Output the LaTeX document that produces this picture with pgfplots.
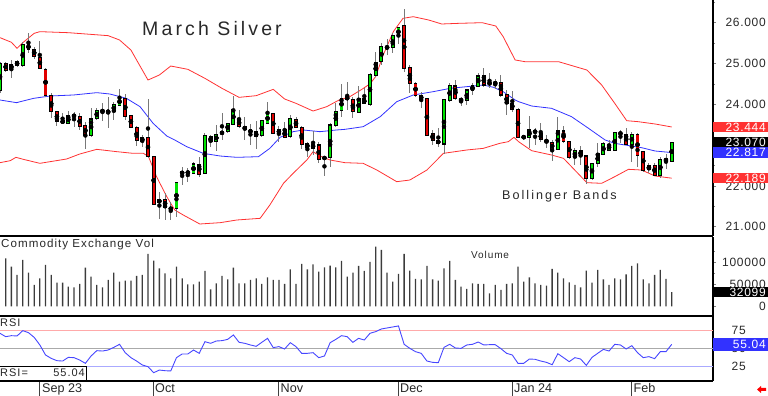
\documentclass[border=0pt]{standalone}
\usepackage{fontspec}
\setmainfont{Liberation Sans}
\newfontfamily\fA[LetterSpace=16]{Liberation Sans}
\newfontfamily\fB[LetterSpace=9]{Liberation Sans}
\newfontfamily\fC[LetterSpace=6]{Liberation Sans}
\usepackage{pgfplots}
\pgfplotsset{compat=1.18}
\usepackage{pgfplotstable}

\definecolor{cgreen}{RGB}{0,225,0}
\definecolor{cred}{RGB}{225,0,0}
\definecolor{bred}{RGB}{255,50,50}
\definecolor{bblue}{RGB}{50,50,255}
\definecolor{wick}{RGB}{120,120,120}
\definecolor{volc}{RGB}{60,60,60}
\definecolor{rline}{RGB}{70,70,255}
\definecolor{rsfff}{RGB}{255,170,170}
\definecolor{rgr}{RGB}{170,170,170}
\definecolor{rbl}{RGB}{170,170,255}
\definecolor{tc}{RGB}{40,40,40}

\newcommand\rfont{\fC\fontsize{12bp}{12bp}\selectfont}
\newcommand\rlab[2]{\node[anchor=east, inner sep=0pt, font=\rfont, text=tc] at (axis cs:125.26,#1) [xshift=53bp] {#2};}
\newcommand\llab[2]{\node[anchor=west, inner sep=0pt, font=\rfont, text=tc] at (axis cs:125.26,#1) [xshift=18.5bp] {#2};}
\newcommand\tagbox[4]{%
  \node[anchor=west, fill=#3, minimum width=55bp, minimum height=#4, inner sep=0pt] at (axis cs:125.26,#1) {};
  \node[anchor=east, inner sep=0pt, font=\rfont, text=white] at (axis cs:125.26,#1) [xshift=53bp] {#2};}

\pgfplotstableread{
i o h l c
0 24.350 25.045 24.268 25.004
1 25.004 25.045 24.799 24.824
2 24.857 25.086 24.636 24.979
3 25.036 25.086 24.922 24.955
4 24.947 25.535 24.922 25.453
5 25.469 25.755 25.265 25.347
6 25.347 25.412 25.102 25.183
7 25.151 25.559 24.857 24.881
8 24.857 24.881 24.187 24.228
9 24.211 24.285 23.656 23.819
10 23.819 23.819 23.468 23.574
11 23.598 23.778 23.517 23.549
12 23.533 23.843 23.517 23.721
13 23.737 23.819 23.451 23.697
14 23.697 23.795 23.370 23.468
15 23.468 23.574 22.896 23.247
16 23.247 23.901 23.206 23.639
17 23.656 23.901 23.615 23.843
18 23.860 24.023 23.598 23.811
19 23.795 24.187 23.410 23.843
20 23.819 24.064 23.615 23.999
21 23.982 24.366 23.958 24.146
22 24.130 24.252 23.615 23.713
23 23.713 23.737 23.410 23.435
24 23.435 23.468 22.978 23.108
25 23.092 23.247 22.961 23.182
26 23.190 24.138 22.675 22.716
27 22.716 22.732 21.531 21.556
28 21.597 21.858 21.180 21.654
29 21.670 21.834 21.164 21.474
30 21.474 21.613 21.164 21.409
31 21.450 22.103 21.246 22.079
32 22.300 22.471 22.022 22.340
33 22.340 22.430 22.103 22.316
34 22.308 22.577 22.283 22.536
35 22.528 22.716 22.226 22.291
36 22.308 23.304 22.291 23.223
37 23.206 23.247 22.961 23.084
38 23.084 23.492 22.863 23.264
39 23.288 23.795 23.125 23.313
40 23.345 23.549 23.304 23.533
41 23.509 24.211 23.492 23.876
42 23.639 23.860 23.410 23.451
43 23.451 23.680 23.125 23.386
44 23.370 23.517 23.002 23.304
45 23.321 23.598 22.896 23.206
46 23.231 23.598 23.206 23.598
47 23.533 24.064 23.517 23.778
48 23.762 23.778 23.272 23.288
49 23.288 23.468 23.084 23.370
50 23.370 23.574 23.165 23.190
51 23.206 23.737 23.165 23.656
52 23.615 23.680 23.410 23.435
53 23.435 23.468 22.896 23.027
54 23.027 23.084 22.716 22.937
55 22.929 23.353 22.757 23.018
56 23.002 23.084 22.553 22.651
57 22.675 22.716 22.242 22.692
58 22.700 23.549 22.471 23.492
59 23.492 24.023 23.451 23.819
60 23.860 24.497 23.697 24.146
61 24.179 24.554 23.860 24.121
62 24.105 24.187 23.656 23.819
63 23.803 24.448 23.778 24.146
64 24.130 24.391 24.007 24.023
65 23.999 24.759 23.958 24.718
66 24.718 25.290 24.661 25.028
67 25.045 25.494 24.963 25.412
68 25.412 25.592 25.208 25.371
69 25.396 25.739 25.249 25.674
70 25.674 25.902 25.469 25.878
71 25.927 26.327 24.799 24.881
72 24.898 24.963 24.285 24.514
73 24.514 24.554 24.187 24.228
74 24.211 24.309 23.901 24.121
75 24.130 24.146 23.223 23.247
76 23.288 23.370 23.002 23.125
77 23.108 23.410 22.961 23.043
78 23.027 24.121 22.781 24.105
79 24.089 24.514 24.064 24.448
80 24.448 24.595 24.105 24.138
81 24.113 24.187 23.958 24.097
82 24.089 24.366 23.982 24.350
83 24.350 24.530 24.228 24.448
84 24.448 24.775 24.416 24.693
85 24.693 24.881 24.432 24.473
86 24.497 24.759 24.391 24.530
87 24.497 24.612 24.366 24.538
88 24.530 24.718 24.187 24.228
89 24.228 24.350 23.737 24.023
90 24.023 24.334 23.819 23.876
91 23.876 23.901 23.165 23.190
92 23.182 23.223 23.165 23.206
93 23.190 23.713 22.920 23.370
94 23.353 23.410 23.002 23.304
95 23.288 23.549 23.084 23.141
96 23.141 23.247 22.920 23.059
97 23.059 23.125 22.618 22.896
98 22.896 23.697 22.880 23.345
99 23.345 23.468 23.059 23.084
100 23.084 23.100 22.667 22.692
101 22.700 22.920 22.512 22.863
102 22.863 22.978 22.512 22.741
103 22.732 22.757 22.046 22.185
104 22.185 22.569 22.144 22.553
105 22.553 23.059 22.471 22.781
106 22.781 23.084 22.757 23.027
107 22.880 23.125 22.863 23.018
108 22.880 23.329 22.863 23.304
109 23.304 23.370 23.043 23.264
110 23.264 23.410 23.002 23.027
111 23.027 23.329 22.593 23.264
112 23.264 23.288 22.471 22.757
113 22.839 22.863 22.349 22.389
114 22.406 22.553 22.308 22.487
115 22.496 22.553 22.242 22.267
116 22.267 22.700 22.185 22.651
117 22.618 22.781 22.406 22.651
118 22.610 23.084 22.593 23.070
}\candles

\pgfplotstableread{
i u
0 25.633
2 25.52
3 25.371
4 25.51
6 25.739
7 25.78
12 25.755
19 25.682
21 25.576
23 25.33
26 24.595
28 24.718
30 24.938
33 24.857
36 24.636
39 24.391
42 24.17
45 24.211
48 24.366
50 24.13
52 24.023
55 23.835
57.4 23.942
59.5 24.1
61.5 24.19
63.5 24.36
65 24.5
66 24.68
67.3 25.2
69.1 25.78
70.8 26.107
72.6 26.147
75.3 26.066
77.6 25.968
80.6 25.984
84.7 26.0
87.1 25.919
88.4 25.657
89.6 25.33
90.5 25.086
92.2 25.045
98.1 25.045
103.1 24.84
105.7 24.473
108 24.023
110.1 23.598
112.1 23.574
115.1 23.517
118 23.444
}\bbU

\pgfplotstableread{
i m
0 24.105
2.9 24.040
5.9 24.146
8.8 24.203
12.9 24.228
17 24.285
19.3 24.252
22.2 24.146
24.6 23.942
26.9 23.533
29.3 23.223
30.7 23.125
32.8 22.961
35.7 22.798
38.7 22.732
41.6 22.700
45.4 22.716
47.4 22.920
49.2 23.190
51.5 23.329
53.3 23.370
56.2 23.329
59.1 23.370
60.6 23.386
63.8 23.451
66.8 23.697
69.7 24.064
72.6 24.228
76.1 24.309
79.1 24.391
82 24.432
84.9 24.473
86.7 24.416
88.4 24.309
90.5 24.105
91.1 24.064
93.4 23.958
96.9 23.901
100.4 23.697
103.4 23.410
106.3 23.125
108.0 23.043
109.8 23.002
112.7 22.937
115.1 22.855
118 22.817
}\bbM

\pgfplotstableread{
i d
0 22.569
1.8 22.618
2.8 22.700
4.1 22.651
7 22.553
11.7 22.659
14 22.781
17 22.896
20.5 22.839
23.4 22.798
25.2 22.798
26.1 22.716
27.5 22.226
29.3 21.736
30.7 21.409
32.2 21.286
35.1 21.066
38.7 21.099
41.6 21.164
45.7 21.205
47.4 21.531
49.8 22.063
51.5 22.308
53.9 22.634
55.0 22.839
56.2 22.732
58 22.634
60.6 22.569
63.8 22.553
66.2 22.389
69.7 22.103
72 22.144
75 22.389
77.9 22.798
82 22.880
84.9 22.920
87.8 23.043
89.3 23.084
90.3 23.19
91.1 23.084
93.4 22.863
96.9 22.757
99 22.675
100.4 22.471
103.1 22.079
105.7 22.063
108 22.226
110.4 22.406
112.7 22.389
115.1 22.242
118 22.189
}\bbL

\pgfplotstableread{
i v
1 108700
2 89800
3 71000
4 104900
5 76300
6 48300
7 63400
8 93600
9 71000
10 53600
11 53600
12 44500
13 43000
14 50600
15 87600
16 67200
17 48300
18 43000
19 59600
20 76300
21 55900
22 58100
23 58100
24 68700
25 71000
26 118500
27 103400
28 86100
29 74700
30 63400
31 89800
32 63400
33 49800
34 49800
35 55900
36 80000
37 38500
38 52100
39 68700
40 61200
41 87600
42 52100
43 52100
44 59600
45 63400
46 50600
47 65700
48 59600
49 59600
50 50600
51 83800
52 50600
53 95900
54 83800
55 95100
56 78500
57 88300
58 92100
59 88300
60 102700
61 67200
62 76300
63 91400
64 80000
65 100400
66 135100
67 127600
68 76300
69 55900
70 73200
71 118500
72 80800
73 61900
74 61200
75 91400
76 61200
77 58100
78 86100
79 102700
80 59600
81 44500
82 39300
83 52100
84 50600
85 50600
86 29400
87 48300
88 37000
89 50600
90 52100
91 89800
92 55900
93 65700
94 52100
95 48300
96 46800
97 84600
98 76300
99 63400
100 54400
101 48300
102 43000
103 80800
104 53600
105 82300
106 61200
107 48300
108 63400
109 61200
110 72500
111 91400
112 97400
113 61200
114 52100
115 71000
116 82300
117 61900
118 32099
}\vol

\pgfplotstableread{
i r
0 70.4
1 65.7
2 67.1
3 66.7
4 74.1
5 71.3
6 64.8
7 54.2
8 40.3
9 35.6
10 32.4
11 31.9
12 37.0
13 36.6
14 33.3
15 28.7
16 38.9
17 46.3
18 45.8
19 47.2
20 50.9
21 55.1
22 43.5
23 36.6
24 31.9
25 26.4
26 24.1
27 15.7
28 19.4
29 18.5
30 18.1
31 36.6
32 41.7
33 41.7
34 47.2
35 42.6
36 58.8
37 56.5
38 59.7
39 60.2
40 62.0
41 68.1
42 57.9
43 56.5
44 54.2
45 52.3
46 57.9
47 63.4
48 50.5
49 51.9
50 48.6
51 57.4
52 51.9
53 42.6
54 42.6
55 43.5
56 36.6
57 38.9
58 57.4
59 62.0
60 67.1
61 65.7
62 57.9
63 63.4
64 61.1
65 70.4
66 72.7
67 76.4
68 77.8
69 79.2
70 80.6
71 55.1
72 49.5
73 44.9
74 42.6
75 31.9
76 30.1
77 29.6
78 50.9
79 55.1
80 50.0
81 49.5
82 54.2
83 55.1
84 58.3
85 54.2
86 54.6
87 54.6
88 49.1
89 42.6
90 40.3
91 28.7
92 28.7
93 34.7
94 34.3
95 31.9
96 30.1
97 26.8
98 42.1
99 36.6
100 31.0
101 36.6
102 34.7
103 25.9
104 37.0
105 42.6
106 48.1
107 45.8
108 55.1
109 54.2
110 48.6
111 53.2
112 43.5
113 36.6
114 38.0
115 35.2
116 44.9
117 44.9
118 55.04
}\rsi

\pgfplotsset{
  panel/.style={scale only axis, width=713bp, xmin=0, xmax=125.26,
    axis x line*=bottom, axis y line*=right,
    axis line style={line width=1.1bp, black},
    xtick=\empty, scaled y ticks=false, yticklabels={},
    tick align=outside, major tick length=3bp, minor tick length=2bp,
    every tick/.style={color=gray, line width=0.6bp}},
}

\begin{document}
\begin{tikzpicture}
\path[use as bounding box] (0bp,0bp) rectangle (768bp,396bp);

% ---------------- price panel
\begin{axis}[panel, at={(0bp,160bp)}, anchor=south west, height=236bp,
  ymin=20.772, ymax=26.556,
  ytick={21,22,23,24,25,26}, minor ytick={21.5,22.5,23.5,24.5,25.5,26.5},
  after end axis/.code={
    \rlab{26}{26.000}\rlab{25}{25.000}\rlab{24}{24.000}
    \rlab{23}{23.000}\rlab{22}{22.000}\rlab{21}{21.000}
    \tagbox{22.817}{22.817}{bblue}{10.5bp}
    \tagbox{23.070}{23.070}{black}{10.5bp}
    \tagbox{23.444}{23.444}{bred}{10.5bp}
    \tagbox{22.189}{22.189}{bred}{10.5bp}
  }]
\addplot[bred, line width=0.8bp] table[x=i, y=u] {\bbU};
\addplot[bred, line width=0.8bp] table[x=i, y=d] {\bbL};
\addplot[bblue, line width=0.8bp] table[x=i, y=m] {\bbM};
% wicks
\addplot[only marks, mark=none, error bars/.cd, y dir=both, y explicit, error mark=none,
  error bar style={line width=0.9bp, wick}]
  table[x=i, y expr={(\thisrow{h}+\thisrow{l})/2}, y error expr={(\thisrow{h}-\thisrow{l})/2}] {\candles};
% body outline
\addplot[only marks, mark=none, error bars/.cd, y dir=both, y explicit, error mark=none,
  error bar style={line width=3.8bp, black}]
  table[x=i, y expr={(\thisrow{o}+\thisrow{c})/2}, y error expr={abs(\thisrow{c}-\thisrow{o})/2+0.018}] {\candles};
% green bodies
\addplot[only marks, mark=none, error bars/.cd, y dir=both, y explicit, error mark=none,
  error bar style={line width=2.2bp, cgreen}]
  table[x=i, y expr={(\thisrow{o}+\thisrow{c})/2}, y error expr={\thisrow{c}>\thisrow{o} ? max(abs(\thisrow{c}-\thisrow{o})/2-0.012,0) : 0}] {\candles};
% red bodies
\addplot[only marks, mark=none, error bars/.cd, y dir=both, y explicit, error mark=none,
  error bar style={line width=2.2bp, cred}]
  table[x=i, y expr={(\thisrow{o}+\thisrow{c})/2}, y error expr={\thisrow{c}<\thisrow{o} ? max(abs(\thisrow{c}-\thisrow{o})/2-0.012,0) : 0}] {\candles};
\end{axis}

% ---------------- volume panel
\begin{axis}[panel, at={(0bp,80bp)}, anchor=south west, height=79bp,
  ymin=-21900, ymax=156800,
  ytick={0,50000,100000}, minor ytick={25000,75000,125000},
  after end axis/.code={
    \rlab{100000}{100000}\rlab{50000}{50000}\rlab{0}{0}
    \tagbox{32099}{32099}{black}{10.5bp}
  }]
\addplot[ybar, bar width=1.3bp, fill=volc, draw=none] table[x=i, y=v] {\vol};
\end{axis}

% ---------------- RSI panel
\begin{axis}[panel, at={(0bp,15bp)}, anchor=south west, height=65bp,
  ymin=4.2, ymax=94.4, ytick=\empty,
  xtick={7,27,49,70,90,111}, xticklabels={}, major tick length=15bp,
  every tick/.style={color=darkgray, line width=0.9bp},
  after end axis/.code={
    \llab{75}{75}\llab{50}{50}\llab{25}{25}
    \tagbox{55.04}{55.04}{bblue}{12.5bp}
  }]
\addplot[rsfff, line width=0.7bp] coordinates {(0,75) (125.26,75)};
\addplot[rgr, line width=0.7bp] coordinates {(0,50) (125.26,50)};
\addplot[rbl, line width=0.7bp] coordinates {(0,25) (125.26,25)};
\addplot[rline, line width=0.9bp] table[x=i, y=r] {\rsi};
\end{axis}

% ---------------- texts
\node[anchor=base west, inner sep=0pt, text=tc, font={\fA\fontsize{19.5bp}{20bp}\selectfont}] at (142bp,360bp) {March Silver};
\node[anchor=base west, inner sep=0pt, text=tc, font={\fA\fontsize{12.6bp}{13bp}\selectfont}] at (502bp,196bp) {Bollinger Bands};
\node[anchor=base west, inner sep=0pt, text=tc, font={\fB\fontsize{11.6bp}{12bp}\selectfont}] at (1bp,148bp) {Commodity Exchange Vol};
\node[anchor=base west, inner sep=0pt, text=tc, font={\fB\fontsize{10bp}{11bp}\selectfont}] at (471bp,137bp) {Volume};
\node[anchor=base west, inner sep=0pt, text=tc, font={\fB\fontsize{11bp}{12bp}\selectfont}] at (0bp,69bp) {RSI};
\draw[fill=white, line width=0.8bp] (-1bp,16bp) rectangle (86bp,30bp);
\node[anchor=base west, inner sep=0pt, text=tc, font={\fB\fontsize{11bp}{12bp}\selectfont}] at (0bp,19.3bp) {RSI=};
\node[anchor=base east, inner sep=0pt, text=tc, font={\fB\fontsize{11bp}{12bp}\selectfont}] at (85bp,19.3bp) {55.04};
\foreach \xx/\lab in {40.5/Sep 23, 153.5/Oct, 279/Nov, 398.5/Dec, 512.5/Jan 24, 632/Feb}
  \node[anchor=base west, inner sep=0pt, text=tc, font={\fontsize{12.6bp}{13bp}\selectfont}] at (\xx bp+1.5bp,4bp) {\lab};
\fill[red] (757bp,6.5bp) -- (761bp,10bp) -- (761bp,8bp) -- (766bp,8bp) -- (766bp,5bp) -- (761bp,5bp) -- (761bp,3bp) -- cycle;
\end{tikzpicture}
\end{document}
